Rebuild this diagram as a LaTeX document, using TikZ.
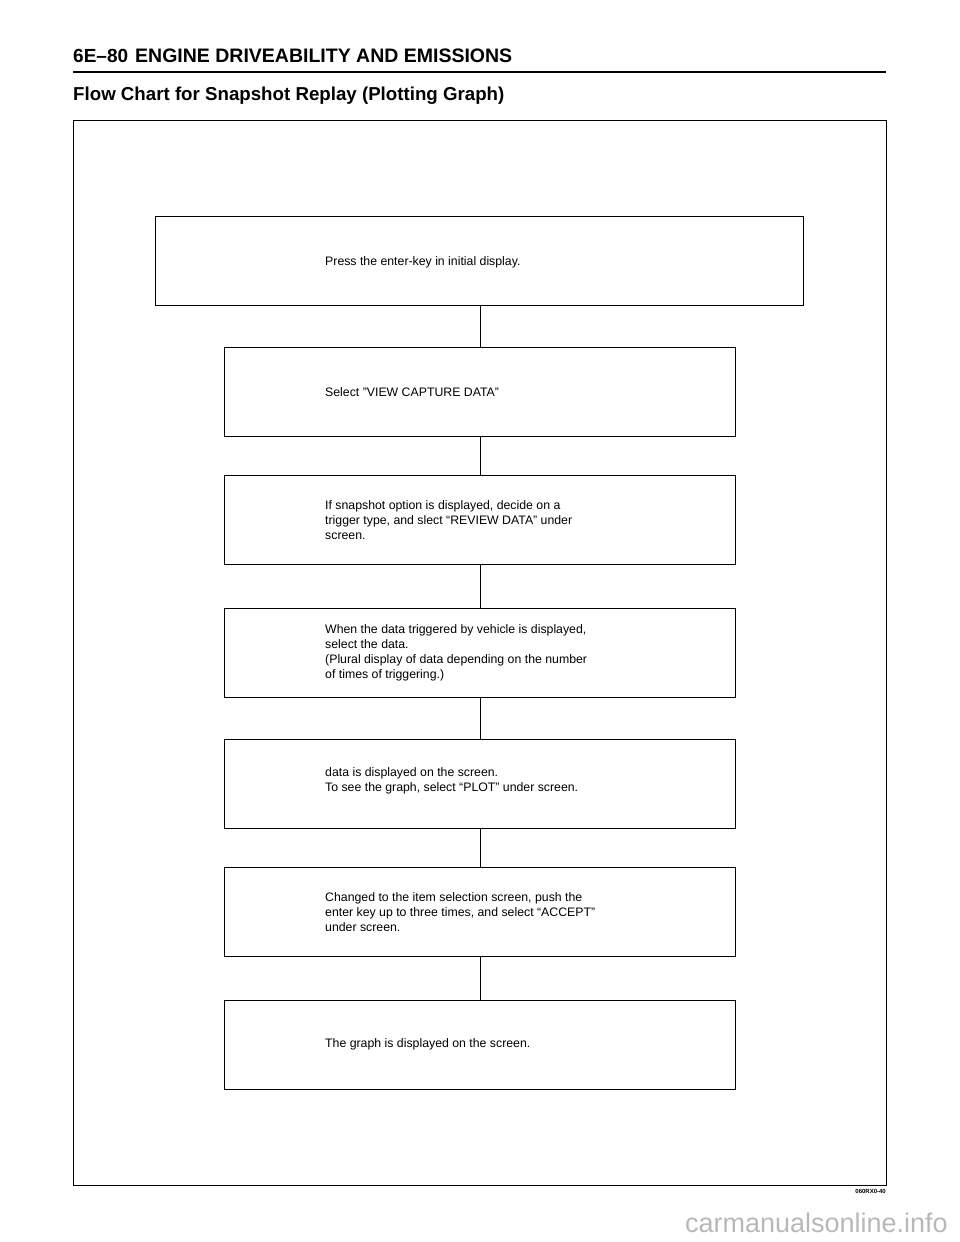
\documentclass[tikz,border=0pt]{standalone}
\usepackage{fontspec}
\setmainfont{Liberation Sans}
\usetikzlibrary{positioning}
\definecolor{wmgrey}{rgb}{.72,.72,.72}

\begin{document}
\begin{tikzpicture}[x=1pt,y=1pt,yscale=-1,xscale=1,
  stepbox/.style={draw,line width=0.8pt,minimum height=89pt,inner sep=0pt},
  steptext/.style={anchor=west,align=left,inner sep=0pt,font=\fontsize{12.3}{15}\selectfont}]
%set diagram to page size
\useasboundingbox (0,0) rectangle (960,1242);

% header
\node (page) [anchor=base west,inner sep=0pt,font=\fontsize{19}{22}\bfseries\selectfont] at (73,62) {6E--80};
\node (chapter) [anchor=base west,inner sep=0pt,font=\fontsize{19.5}{22}\bfseries\selectfont] at (135,62) {ENGINE DRIVEABILITY AND EMISSIONS};
\draw [line width=2.5pt] (73,72) -- (886,72);
\node (title) [anchor=base west,inner sep=0pt,font=\fontsize{18.7}{22}\bfseries\selectfont] at (73,100) {Flow Chart for Snapshot Replay (Plotting Graph)};

% outer frame
\draw [line width=0.8pt] (73,120) rectangle (886,1185);

% boxes
\node (b1) [stepbox,minimum width=648pt] at (479,260.5) {};
\node (b2) [stepbox,minimum width=511pt] at (479.5,391.5) {};
\node (b3) [stepbox,minimum width=511pt] at (479.5,519.5) {};
\node (b4) [stepbox,minimum width=511pt] at (479.5,652.5) {};
\node (b5) [stepbox,minimum width=511pt] at (479.5,783.5) {};
\node (b6) [stepbox,minimum width=511pt] at (479.5,911.5) {};
\node (b7) [stepbox,minimum width=511pt] at (479.5,1044.5) {};

% connectors
\foreach \a/\b in {b1/b2,b2/b3,b3/b4,b4/b5,b5/b6,b6/b7}
  \draw [line width=0.8pt] (\a.south -| 480,0) -- (\b.north -| 480,0);

% texts
\node (t1) [steptext] at (325,262) {Press the enter-key in initial display.};
\node (t2) [steptext] at (325,392) {Select "VIEW CAPTURE DATA"};
\node (t3) [steptext] at (325,520) {If snapshot option is displayed, decide on a\\trigger type, and slect ``REVIEW DATA'' under\\screen.};
\node (t4) [steptext] at (325,653) {When the data triggered by vehicle is displayed,\\select the data.\\(Plural display of data depending on the number\\of times of triggering.)};
\node (t5) [steptext] at (325,781) {data is displayed on the screen.\\To see the graph, select ``PLOT'' under screen.};
\node (t6) [steptext] at (325,912) {Changed to the item selection screen, push the\\enter key up to three times, and select ``ACCEPT''\\under screen.};
\node (t7) [steptext] at (325,1044) {The graph is displayed on the screen.};

% figure code and watermark
\node (code) [anchor=north east,inner sep=0pt,font=\fontsize{6}{7}\bfseries\selectfont] at (886,1189) {060RX0-40};
\node (wm) [anchor=base east,inner sep=0pt,text=wmgrey,font=\fontsize{27}{30}\selectfont] at (948,1232) {carmanualsonline.info};
\end{tikzpicture}
\end{document}
